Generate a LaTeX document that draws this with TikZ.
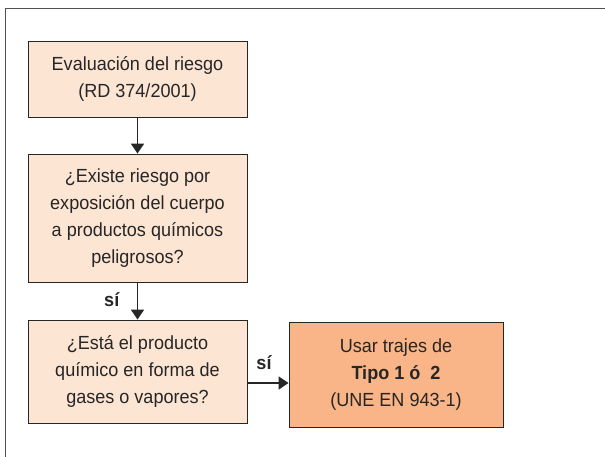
\documentclass[tikz,border=0pt]{standalone}
\usepackage{fontspec}
\setmainfont{Liberation Sans}[FakeStretch=0.95]
\usetikzlibrary{arrows.meta}

\definecolor{peach}{HTML}{FDE5D4}
\definecolor{salmon}{HTML}{F9B587}
\definecolor{inkgray}{HTML}{262626}

\tikzset{
  stepbox/.style={draw=inkgray, line width=0.9pt, align=center, text=inkgray,
    font=\fontsize{19}{27}\selectfont, inner sep=0pt},
  flow/.style={draw=inkgray, line width=1.8pt, -{Triangle[width=13pt,length=10pt]}},
  answer/.style={font=\bfseries\fontsize{19}{22}\selectfont, text=inkgray}
}

\begin{document}
\begin{tikzpicture}[x=1pt,y=-1pt]
\useasboundingbox (0,0) rectangle (605,456);

% Frame
\draw[inkgray!80, line width=0.8pt] (5,460) -- (5,8) -- (610,8);

% Boxes
\node[stepbox, fill=peach, minimum width=219pt, minimum height=76pt] (eval) at (137.5,79)
  {Evaluación del riesgo\\(RD 374/2001)};
\node[stepbox, fill=peach, minimum width=219pt, minimum height=128pt] (expo) at (137.5,218)
  {¿Existe riesgo por\\exposición del cuerpo\\a productos químicos\\peligrosos?};
\node[stepbox, fill=peach, minimum width=219pt, minimum height=103pt] (gases) at (137.5,371.5)
  {¿Está el producto\\químico en forma de\\gases o vapores?};
\node[stepbox, fill=salmon, minimum width=214pt, minimum height=105pt] (trajes) at (396,374.5)
  {Usar trajes de\\\textbf{Tipo 1 ó\ \ 2}\\(UNE EN 943-1)};

% Arrows
\draw[flow] (eval) -- (expo);
\draw[flow] (expo) -- node[answer, left=14pt, pos=0.45] (si1) {sí} (gases);
\draw[flow] ([yshift=-11.5pt]gases.east) -- node[answer, above=9pt, xshift=-4pt] (si2) {sí}
  ([yshift=-11.5pt]gases.east -| trajes.west);
\end{tikzpicture}
\end{document}
